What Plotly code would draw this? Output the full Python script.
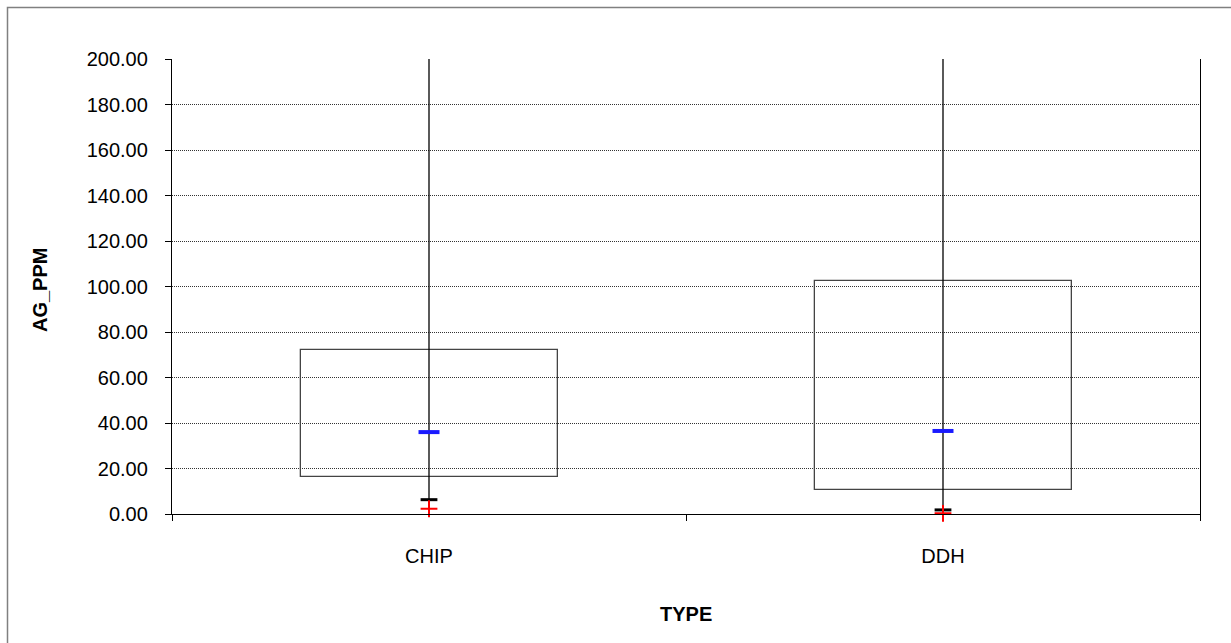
import plotly.graph_objects as go

# Summary statistics of AG_PPM by sample type
types = ["CHIP", "DDH"]
type_pos = [0.5, 1.5]
q1_vals = [16.3, 10.5]
q3_vals = [72.0, 102.5]
min_vals = [0.0, 0.0]
max_vals = [200.0, 200.0]
mean_vals = [36.0, 36.5]
median_vals = [6.3, 1.8]
mode_vals = [2.3, 0.3]
y_ticks = [0, 20, 40, 60, 80, 100, 120, 140, 160, 180, 200]

FONT = "Liberation Sans, Arial, sans-serif"
W, H = 1231, 643
L, R, T, B = 172, 31, 59, 129
PW, PH = W - L - R, H - T - B

fig = go.Figure()

# whiskers (min to max)
for xp, lo, hi in zip(type_pos, min_vals, max_vals):
    fig.add_trace(go.Scatter(x=[xp, xp], y=[lo, hi], mode="lines",
                             line=dict(color="black", width=1.3),
                             hoverinfo="skip", showlegend=False, cliponaxis=True))

# interquartile boxes
fig.add_trace(go.Bar(x=type_pos, base=q1_vals,
                     y=[b - a for a, b in zip(q1_vals, q3_vals)],
                     width=0.5, marker=dict(color="rgba(0,0,0,0)",
                                            line=dict(color="#444444", width=1.3)),
                     showlegend=False))

# mean
fig.add_trace(go.Scatter(x=type_pos, y=mean_vals, mode="markers",
                         marker=dict(symbol="line-ew", size=15,
                                     line=dict(color="#1a1aff", width=4)),
                         showlegend=False, cliponaxis=False))
# median
fig.add_trace(go.Scatter(x=type_pos, y=median_vals, mode="markers",
                         marker=dict(symbol="line-ew", size=12,
                                     line=dict(color="black", width=3)),
                         showlegend=False, cliponaxis=False))
# mode
fig.add_trace(go.Scatter(x=type_pos, y=mode_vals, mode="markers",
                         marker=dict(symbol="cross-thin", size=12,
                                     line=dict(color="red", width=2)),
                         showlegend=False, cliponaxis=False))

fig.update_layout(
    width=W, height=H,
    margin=dict(l=L, r=R, t=T, b=B),
    paper_bgcolor="white", plot_bgcolor="white",
    font=dict(family=FONT, size=20, color="black"),
    bargap=0,
)

fig.update_xaxes(
    range=[0, 2], tickvals=type_pos, ticktext=types, ticks="",
    showgrid=False, zeroline=False,
    showline=True, linecolor="black", linewidth=1.3,
    ticklabelstandoff=24,
    minor=dict(tickmode="array", tickvals=[0, 1, 2], ticks="outside",
               ticklen=6, tickcolor="black", tickwidth=1.3, showgrid=False),
    tickfont=dict(size=20),
)
fig.update_yaxes(
    range=[0, 200], tickvals=y_ticks, tickformat=".2f",
    ticks="outside", ticklen=6, tickcolor="black", tickwidth=1.3,
    showline=True, linecolor="black", linewidth=1.3, mirror=True,
    showgrid=True, gridcolor="#333333", griddash="1px,1px", gridwidth=1,
    zeroline=False, ticklabelstandoff=13,
    tickfont=dict(size=20),
)

# axis titles
fig.add_annotation(text="<b>TYPE</b>", xref="paper", yref="paper",
                   x=0.5, y=-(614 - 514) / PH, showarrow=False,
                   font=dict(size=20), xanchor="center", yanchor="middle")
fig.add_annotation(text="<b>AG_PPM</b>", xref="paper", yref="paper",
                   x=-(L - 40) / PW, y=(514 - 290) / PH, textangle=-90,
                   showarrow=False, font=dict(size=20),
                   xanchor="center", yanchor="middle")

# outer chart frame
fig.add_shape(type="rect", xref="paper", yref="paper",
              x0=-(L - 7.5) / PW, x1=(W - L + 20) / PW,
              y0=-(H - T - PH + 20) / PH, y1=1 + (T - 7.5) / PH,
              line=dict(color="#808080", width=1.5), layer="below")

fig.write_html("out.html")
